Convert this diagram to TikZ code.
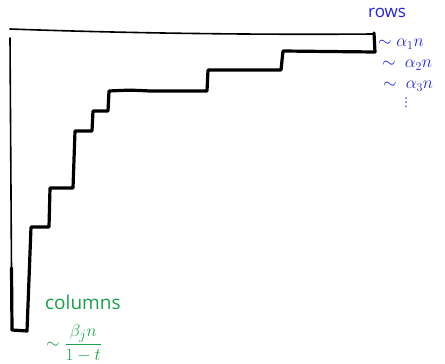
\documentclass[tikz,border=0pt]{standalone}
\usepackage{fontspec}
\setmainfont{Open Sans}
\newfontfamily\dejavu{DejaVu Sans}
\definecolor{inkblue}{RGB}{35,35,215}
\definecolor{inkgreen}{RGB}{25,160,75}
\tikzset{
  stair/.style={line width=3.2pt, line join=round, line cap=round, black},
  frame/.style={line width=1.6pt, line cap=round, black},
  rowlbl/.style={text=inkblue, font=\fontsize{17}{19}\selectfont, inner sep=0pt, anchor=west},
  collbl/.style={text=inkgreen, font=\fontsize{19}{21}\selectfont, inner sep=0pt},
}
\begin{document}
\begin{tikzpicture}[x=1pt,y=-1pt]
\useasboundingbox (0,0) rectangle (445,364);
% top edge of the diagram
\draw[frame] (10,29) .. controls (120,33) and (250,35) .. (373,34);
% left edge
\draw[frame] (10,38) -- (11.5,270);
\draw[stair] (11.5,268) -- (12,330);
% staircase boundary
\draw[stair] (374,33) -- (375,52) -- (283,51) -- (281,70) -- (208,70)
  -- (207,91) -- (150,91) .. controls (130,90) .. (109,91) -- (108,111) -- (93,111)
  -- (92,131) -- (75,131) -- (73,188) -- (50,188) -- (49,227) -- (31,227)
  -- (27,331) -- (12,330);
% row labels
\node[rowlbl] (rows) at (368,13) {rows};
\node[rowlbl] (r1) at (378,44) {$\sim\alpha_1 n$};
\node[rowlbl] (r2) at (382,65) {$\sim\ \alpha_2 n$};
\node[rowlbl] (r3) at (383,86) {$\sim\ \alpha_3 n$};
\node[rowlbl, font=\dejavu\fontsize{12}{12}\selectfont] (r4) at (400,103) {⋮};
% column labels
\node[collbl, anchor=west] (cols) at (45,302) {columns};
\node[collbl, anchor=west] (c1) at (46,343) {$\sim\displaystyle\frac{\beta_j n}{1-t}$};
\end{tikzpicture}
\end{document}
